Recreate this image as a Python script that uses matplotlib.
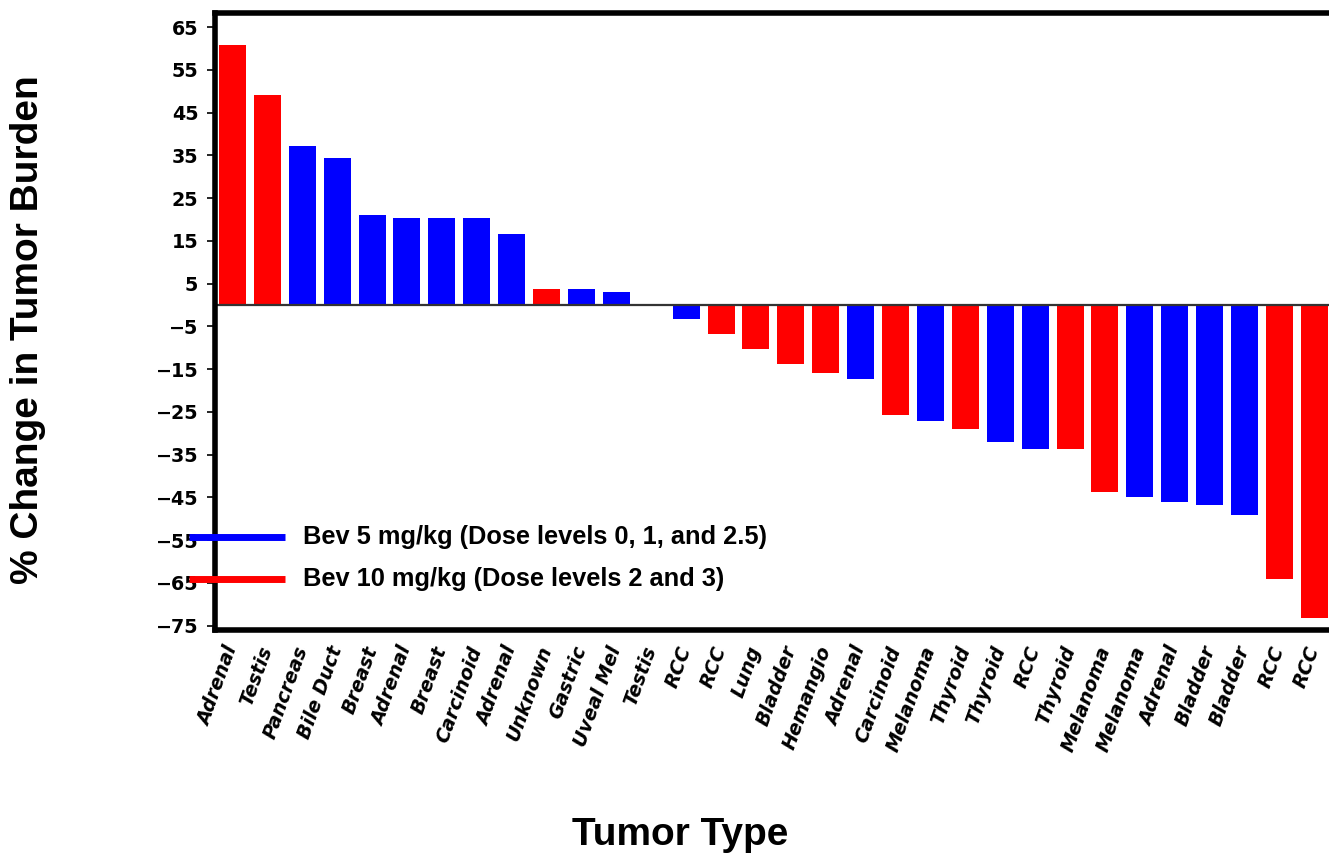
import matplotlib
matplotlib.use("Agg")
import matplotlib.pyplot as plt
from matplotlib.lines import Line2D

tumor_types = ["Adrenal", "Testis", "Pancreas", "Bile Duct", "Breast", "Adrenal",
               "Breast", "Carcinoid", "Adrenal", "Unknown", "Gastric", "Uveal Mel",
               "Testis", "RCC", "RCC", "Lung", "Bladder", "Hemangio", "Adrenal",
               "Carcinoid", "Melanoma", "Thyroid", "Thyroid", "RCC", "Thyroid",
               "Melanoma", "Melanoma", "Adrenal", "Bladder", "Bladder", "RCC", "RCC"]
pct_change = [60.8, 49.1, 37.3, 34.4, 21.1, 20.4, 20.4, 20.4, 16.6, 3.7, 3.7, 3.0,
              0.0, -3.3, -6.8, -10.2, -13.9, -15.9, -17.4, -25.7, -27.2, -29.1,
              -32.1, -33.7, -33.7, -43.8, -45.0, -46.1, -46.8, -49.2, -64.1, -73.2]
# 5 = Bev 5 mg/kg, 10 = Bev 10 mg/kg
dose = [10, 10, 5, 5, 5, 5, 5, 5, 5, 10, 5, 5,
        10, 5, 10, 10, 10, 10, 5, 10, 5, 10,
        5, 5, 10, 10, 5, 5, 5, 5, 10, 10]
yticks = list(range(65, -76, -10))

dose_colors = {5: "#0000ff", 10: "#ff0000"}
legend_labels = {5: "Bev 5 mg/kg (Dose levels 0, 1, and 2.5)",
                 10: "Bev 10 mg/kg (Dose levels 2 and 3)"}

W, H = 1329, 859
fig = plt.figure(figsize=(W / 100, H / 100), dpi=100)
ax = fig.add_axes([215 / W, (H - 630) / H, (W - 215) / W, (630 - 13) / H])

x = list(range(len(tumor_types)))
ax.bar(x, pct_change, width=0.775, color=[dose_colors[d] for d in dose],
       edgecolor="none")
ax.axhline(0, color="#333333", lw=1.6)

ax.set_xlim(-0.5, (W - 215) / 34.9 - 0.5)
ax.set_ylim(-76.0, 68.3)

for side in ["left", "top", "bottom"]:
    ax.spines[side].set_linewidth(4)
    ax.spines[side].set_color("black")
ax.spines["right"].set_visible(False)

ax.set_yticks(yticks)
ax.set_yticklabels([str(v).replace("-", "\u2212") for v in yticks],
                   fontfamily="DejaVu Sans", fontweight="bold", fontsize=13.8)
ax.tick_params(axis="y", length=6, width=1.2, pad=6)

ax.set_xticks(x)
ax.set_xticklabels(tumor_types, rotation=70, rotation_mode="anchor", ha="right",
                   va="center", fontfamily="DejaVu Sans", fontweight="bold",
                   fontstyle="italic", fontsize=13.8)
ax.tick_params(axis="x", length=0, pad=12)

# legend drawn by hand: line sticking out over the y axis, bold text
for d, ypix in [(5, 537), (10, 579)]:
    yf = (H - ypix) / H
    fig.add_artist(Line2D([189 / W, 285 / W], [yf, yf], color=dose_colors[d],
                          lw=5, solid_capstyle="butt"))
    fig.text(303 / W, yf, legend_labels[d], fontfamily="Liberation Sans",
             fontweight="bold", fontsize=18.3, va="center", ha="left")

fig.text(28 / W, (H - 330) / H, "% Change in Tumor Burden", rotation=90,
         fontfamily="Liberation Sans", fontweight="bold", fontsize=28,
         ha="center", va="center")
fig.text(680 / W, (H - 835) / H, "Tumor Type", fontfamily="Liberation Sans",
         fontweight="bold", fontsize=28, ha="center", va="center")

plt.savefig("out.png", dpi=100)
plt.close()
